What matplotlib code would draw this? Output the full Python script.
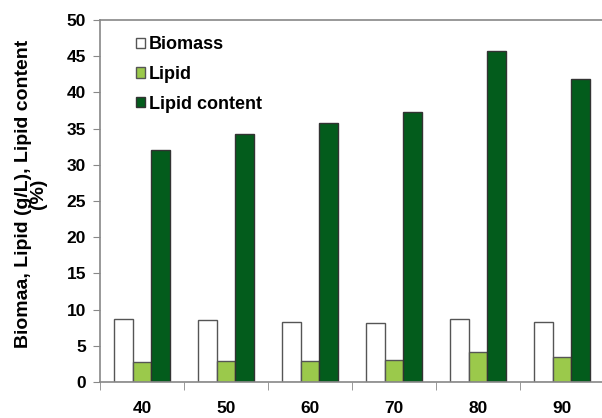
import matplotlib.pyplot as plt
import numpy as np

plt.rcParams['font.family'] = ['Liberation Sans', 'DejaVu Sans']

temps = ['40', '50', '60', '70', '80', '90']
biomass = [8.75, 8.6, 8.3, 8.15, 8.75, 8.3]
lipid = [2.7, 2.85, 2.85, 3.0, 4.1, 3.45]
lipid_content = [32.0, 34.3, 35.8, 37.3, 45.7, 41.9]

fig = plt.figure(figsize=(6.02, 4.18), dpi=100)
ax = fig.add_axes([100 / 602, 36 / 418, 504 / 602, 362 / 418])

x = np.arange(len(temps))
w = 0.225
edge = '#555555'
ax.bar(x - w, biomass, w, color='white', edgecolor=edge, linewidth=1, label='Biomass')
ax.bar(x, lipid, w, color='#9bc94b', edgecolor=edge, linewidth=1, label='Lipid')
ax.bar(x + w, lipid_content, w, color='#035c1c', edgecolor='#333333', linewidth=1, label='Lipid content')

ax.set_xlim(-0.5, 5.5)
ax.set_ylim(0, 50)
ax.set_yticks(range(0, 51, 5))
ax.set_xticks(x)
ax.set_xticklabels(temps, fontweight='bold', fontsize=12.5)
ax.set_xticks(np.arange(-0.5, 6.0, 1), minor=True)
ax.tick_params(axis='x', which='major', length=0, pad=14)
ax.tick_params(axis='x', which='minor', length=6, color='#888888', direction='out')
ax.tick_params(axis='y', length=5, color='#888888', direction='out', labelsize=12.5, pad=5)
for lab in ax.get_yticklabels():
    lab.set_fontweight('bold')

for s in ['left', 'bottom', 'top']:
    ax.spines[s].set_color('#888888')
    ax.spines[s].set_linewidth(1.2)
ax.spines['right'].set_visible(False)

ax.set_ylabel('Biomaa, Lipid (g/L), Lipid content\n(%)', fontweight='bold',
              fontsize=14, linespacing=0.85, labelpad=4)
ax.yaxis.set_label_coords(-0.105, 0.52)

leg = ax.legend(loc='upper left', bbox_to_anchor=(0.04, 1.0), frameon=False,
                handlelength=0.5, handleheight=0.5, handletextpad=0.2,
                labelspacing=0.7, prop={'weight': 'bold', 'size': 13})

fig.savefig('out.png', dpi=100)
